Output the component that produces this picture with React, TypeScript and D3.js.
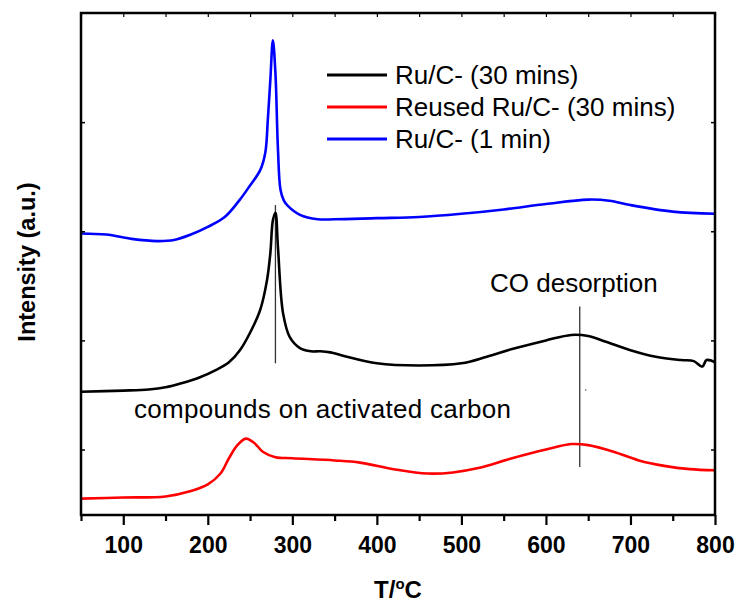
import * as d3 from "d3";
import { useRef, useEffect } from "react";

// temperature grid (°C) and intensities (a.u.)
const blueT = [50, 80, 110, 140, 160, 180, 200, 220, 238, 250, 262, 268, 271, 274, 277, 280, 283, 286, 290, 295, 309, 330, 350, 400, 450, 500, 550, 600, 650, 675, 700, 750, 800];
const blueI = [2.98, 2.97, 2.93, 2.91, 2.92, 2.97, 3.04, 3.13, 3.29, 3.42, 3.56, 3.72, 4.02, 4.39, 4.75, 4.45, 3.75, 3.38, 3.28, 3.23, 3.15, 3.11, 3.11, 3.12, 3.13, 3.16, 3.20, 3.25, 3.29, 3.28, 3.24, 3.18, 3.16];

const blackT = [50, 100, 130, 150, 170, 190, 210, 225, 238, 250, 262, 270, 274, 277, 280, 283, 289, 297, 309, 322, 333, 345, 360, 400, 450, 500, 530, 560, 600, 630, 650, 670, 700, 730, 760, 775, 785, 790, 800];
const blackI = [1.53, 1.54, 1.55, 1.57, 1.61, 1.66, 1.73, 1.80, 1.91, 2.07, 2.28, 2.55, 2.80, 3.10, 3.17, 2.85, 2.25, 2.03, 1.93, 1.90, 1.90, 1.89, 1.86, 1.79, 1.77, 1.79, 1.85, 1.92, 2.00, 2.05, 2.04, 1.99, 1.91, 1.85, 1.82, 1.81, 1.76, 1.82, 1.80];

const redT = [50, 100, 150, 180, 200, 215, 225, 235, 245, 255, 265, 280, 300, 350, 380, 420, 460, 490, 520, 560, 600, 630, 650, 680, 710, 740, 770, 800];
const redI = [0.55, 0.56, 0.57, 0.62, 0.68, 0.78, 0.92, 1.04, 1.10, 1.06, 0.98, 0.93, 0.92, 0.90, 0.88, 0.82, 0.78, 0.79, 0.83, 0.92, 1.00, 1.05, 1.04, 0.98, 0.90, 0.85, 0.82, 0.81];

const seriesNames = ["Ru/C- (30 mins)", "Reused Ru/C- (30 mins)", "Ru/C- (1 min)"];
const seriesColors = ["#000000", "#ff0000", "#0000ff"];

const xTicks = [50, 100, 150, 200, 250, 300, 350, 400, 450, 500, 550, 600, 650, 700, 750, 800];
const yTicks = [1, 2, 3, 4];

// marker lines: [T, from, to]
const markers = [
  [280, 3.24, 1.79],
  [640, 2.31, 0.84],
];

export default function App() {
  const ref = useRef(null);

  useEffect(() => {
    const width = 741;
    const height = 607;
    const left = 81, right = 715, top = 13, bottom = 515;
    const font = "'Liberation Sans', Arial, sans-serif";

    const svg = d3.select(ref.current);
    svg.selectAll("*").remove();
    svg.attr("width", width).attr("height", height);

    const x = d3.scaleLinear().domain([50, 800]).range([left, right]);
    const y = d3.scaleLinear().domain([0.4, 5.0]).range([bottom, top]);

    const line = d3.line()
      .x(d => x(d[0]))
      .y(d => y(d[1]))
      .curve(d3.curveCatmullRom.alpha(0.5));

    const data = [
      blackT.map((t, i) => [t, blackI[i]]),
      redT.map((t, i) => [t, redI[i]]),
      blueT.map((t, i) => [t, blueI[i]]),
    ];

    // marker lines
    svg.selectAll("line.marker")
      .data(markers)
      .enter()
      .append("line")
      .attr("class", "marker")
      .attr("x1", d => x(d[0]))
      .attr("x2", d => x(d[0]))
      .attr("y1", d => y(d[1]))
      .attr("y2", d => y(d[2]))
      .attr("stroke", "#333")
      .attr("stroke-width", 1.3);

    svg.append("circle")
      .attr("cx", x(647)).attr("cy", y(1.545)).attr("r", 0.8).attr("fill", "#555");

    svg.selectAll("path.series")
      .data(data)
      .enter()
      .append("path")
      .attr("class", "series")
      .attr("d", d => line(d))
      .attr("fill", "none")
      .attr("stroke", (d, i) => seriesColors[i])
      .attr("stroke-width", 2.6)
      .attr("stroke-linejoin", "round");

    // bottom axis
    const gx = svg.append("g")
      .attr("transform", `translate(0,${bottom})`)
      .call(d3.axisBottom(x).tickValues(xTicks).tickSize(10).tickPadding(12)
        .tickFormat(d => (d % 100 === 0 ? String(d) : "")));
    gx.select(".domain").remove();
    gx.selectAll(".tick line")
      .attr("stroke-width", 2.2)
      .attr("y2", d => (d % 100 === 0 ? 10 : 6));
    gx.selectAll(".tick text")
      .style("font-family", font)
      .style("font-size", "23px")
      .style("font-weight", "bold")
      .attr("fill", "#000");

    // top axis (inner ticks)
    const gt = svg.append("g")
      .attr("transform", `translate(0,${top})`)
      .call(d3.axisBottom(x).tickValues(xTicks).tickSize(4).tickFormat(() => ""));
    gt.select(".domain").remove();
    gt.selectAll(".tick line").attr("stroke-width", 1.2);

    // left / right axes (inner ticks, no labels)
    const gl = svg.append("g")
      .attr("transform", `translate(${left},0)`)
      .call(d3.axisRight(y).tickValues(yTicks).tickSize(4).tickFormat(() => ""));
    gl.select(".domain").remove();
    gl.selectAll(".tick line").attr("stroke-width", 1.5);

    const gr = svg.append("g")
      .attr("transform", `translate(${right},0)`)
      .call(d3.axisLeft(y).tickValues(yTicks).tickSize(4).tickFormat(() => ""));
    gr.select(".domain").remove();
    gr.selectAll(".tick line").attr("stroke-width", 1.5);

    // frame
    svg.append("rect")
      .attr("x", left).attr("y", top)
      .attr("width", right - left).attr("height", bottom - top)
      .attr("fill", "none")
      .attr("stroke", "#000")
      .attr("stroke-width", 2.5);

    // axis titles
    const xt = svg.append("text")
      .attr("x", (left + right) / 2)
      .attr("y", 598)
      .attr("text-anchor", "middle")
      .style("font-family", font)
      .style("font-size", "24px")
      .style("font-weight", "bold");
    xt.append("tspan").text("T/");
    xt.append("tspan").text("o").attr("dy", -9).style("font-size", "15px");
    xt.append("tspan").text("C").attr("dy", 9);

    svg.append("text")
      .attr("transform", `translate(35,262) rotate(-90)`)
      .attr("text-anchor", "middle")
      .style("font-family", font)
      .style("font-size", "23.5px")
      .style("font-weight", "bold")
      .text("Intensity (a.u.)");

    // annotations
    svg.append("text")
      .attr("x", 490).attr("y", 292)
      .style("font-family", font)
      .style("font-size", "26px")
      .text("CO desorption");
    svg.append("text")
      .attr("x", 134).attr("y", 418)
      .style("font-family", font)
      .style("font-size", "26px")
      .attr("textLength", 377)
      .text("compounds on activated carbon");

    // legend
    const lg = svg.append("g");
    const rows = lg.selectAll("g")
      .data(seriesNames)
      .enter()
      .append("g")
      .attr("transform", (d, i) => `translate(327,${75 + i * 32})`);
    rows.append("line")
      .attr("x1", 0).attr("x2", 60)
      .attr("stroke", (d, i) => seriesColors[i])
      .attr("stroke-width", 3);
    rows.append("text")
      .attr("x", 68).attr("y", 8.5)
      .style("font-family", font)
      .style("font-size", "26px")
      .text(d => d);
  }, []);

  return <svg ref={ref} style={{ position: "absolute", left: 0, top: 0 }}></svg>;
}
